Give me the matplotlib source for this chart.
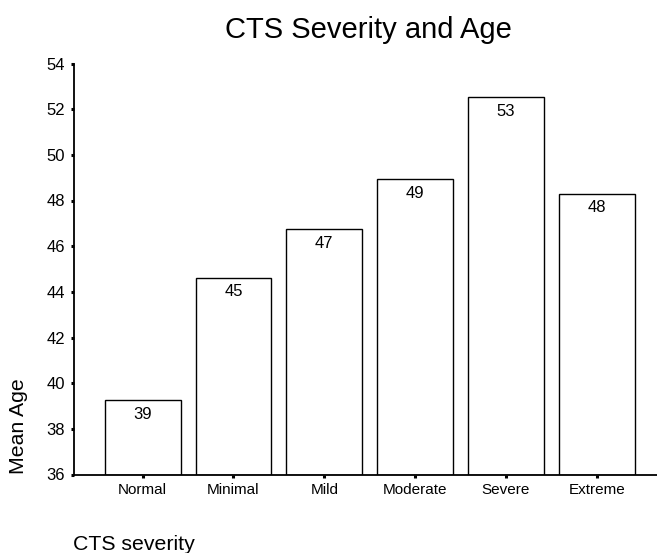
import matplotlib
matplotlib.use("Agg")
import matplotlib.pyplot as plt

categories = ["Normal", "Minimal", "Mild", "Moderate", "Severe", "Extreme"]
mean_age = [39.25, 44.62, 46.73, 48.92, 52.52, 48.30]
bar_labels = ["39", "45", "47", "49", "53", "48"]
y_ticks = [36, 38, 40, 42, 44, 46, 48, 50, 52, 54]

plt.rcParams['font.family'] = ['Liberation Sans', 'DejaVu Sans']

W, H = 657, 553
fig = plt.figure(figsize=(W / 100, H / 100), dpi=100)
ax = fig.add_axes([73.5 / W, (H - 474.5) / H, (W - 73.5) / W, (474.5 - 63.5) / H])

x = list(range(len(categories)))
ax.bar(x, [v - 36 for v in mean_age], bottom=36, width=0.834,
       color="white", edgecolor="black", linewidth=1.0, zorder=2)

for xi, v, lab in zip(x, mean_age, bar_labels):
    ax.annotate(lab, (xi, v), xytext=(0, -4.5), textcoords="offset points",
                ha="center", va="top", fontsize=12, color="black")

ax.set_xlim(-0.762, 5.664)
ax.set_ylim(36, 54)
ax.set_yticks(y_ticks)
ax.set_yticklabels([str(t) for t in y_ticks], fontsize=12)
ax.set_xticks(x)
ax.set_xticklabels(categories, fontsize=11)

for s in ["top", "right"]:
    ax.spines[s].set_visible(False)
for s in ["left", "bottom"]:
    ax.spines[s].set_linewidth(1.3)
ax.tick_params(axis="both", direction="out", length=2.2, width=2.2)
ax.tick_params(axis="y", pad=4)
ax.tick_params(axis="x", pad=4)

fig.text(368.5 / W, (H - 38.3) / H, "CTS Severity and Age", fontsize=21,
         ha="center", va="baseline")
fig.text(18.5 / W, (H - 426.5) / H, "Mean Age", fontsize=15.3, rotation=90,
         ha="center", va="center")
fig.text(73 / W, (H - 550.5) / H, "CTS severity", fontsize=15.3,
         ha="left", va="baseline")

fig.savefig("out.png", dpi=100)
